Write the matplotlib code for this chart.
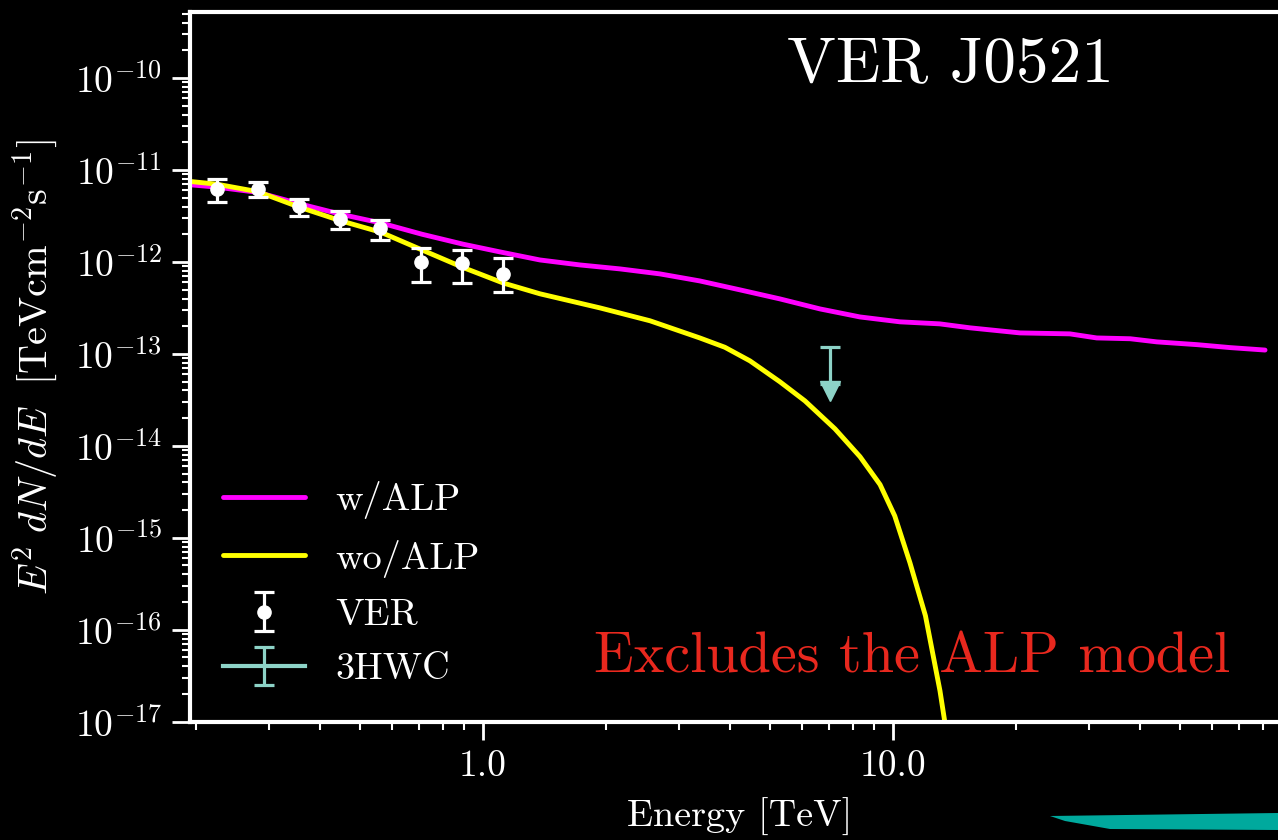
import matplotlib
matplotlib.use('Agg')
import matplotlib.pyplot as plt
from matplotlib.patches import Polygon

plt.rcParams['mathtext.fontset'] = 'cm'
plt.rcParams['font.family'] = 'cmr10'
plt.rcParams['axes.formatter.use_mathtext'] = True

# w/ALP model curve
energy_alp = [0.193, 0.2245, 0.2826, 0.356, 0.450, 0.564, 0.71, 0.894, 1.10, 1.377,
              1.724, 2.16, 2.70, 3.38, 4.24, 5.30, 6.64, 8.31, 10.4, 13.0, 15.4,
              20.4, 27.0, 31.4, 37.9, 44.0, 55.1, 66.4, 80.8]
flux_alp = [6.9e-12, 6.5e-12, 5.7e-12, 4.3e-12, 3.3e-12, 2.65e-12, 2.0e-12, 1.56e-12,
            1.285e-12, 1.05e-12, 9.27e-13, 8.39e-13, 7.41e-13, 6.21e-13, 4.96e-13,
            3.96e-13, 3.08e-13, 2.52e-13, 2.23e-13, 2.12e-13, 1.92e-13, 1.69e-13,
            1.65e-13, 1.49e-13, 1.46e-13, 1.35e-13, 1.26e-13, 1.17e-13, 1.10e-13]

# wo/ALP model curve
energy_noalp = [0.193, 0.2245, 0.2826, 0.356, 0.450, 0.564, 0.71, 0.894, 1.12, 1.377,
                1.93, 2.555, 3.38, 3.89, 4.48, 5.30, 6.10, 7.22, 8.31, 9.30,
                10.1, 11.0, 12.0, 13.02, 13.6]
flux_noalp = [7.5e-12, 7.0e-12, 5.8e-12, 3.95e-12, 2.8e-12, 2.1e-12, 1.35e-12, 8.7e-13,
              5.9e-13, 4.5e-13, 3.16e-13, 2.29e-13, 1.49e-13, 1.18e-13, 8.39e-14,
              4.97e-14, 3.08e-14, 1.53e-14, 7.62e-15, 3.79e-15, 1.73e-15,
              5.35e-16, 1.42e-16, 2.17e-17, 6.2e-18]

# VER data points
ver_energy = [0.224, 0.282, 0.355, 0.447, 0.562, 0.708, 0.891, 1.12]
ver_flux = [6.2e-12, 6.26e-12, 4.06e-12, 2.96e-12, 2.32e-12, 1.0e-12, 9.8e-13, 7.34e-13]
ver_hi = [7.9e-12, 7.46e-12, 4.88e-12, 3.61e-12, 2.88e-12, 1.40e-12, 1.36e-12, 1.1e-12]
ver_lo = [4.5e-12, 5.1e-12, 3.16e-12, 2.3e-12, 1.75e-12, 6.07e-13, 5.9e-13, 4.75e-13]

# 3HWC upper limit
hwc_energy = [7.02]
hwc_ul = [1.19e-13]
hwc_bar_end = [4.7e-14]
hwc_arrow = [3.9e-14]

teal = '#8dd3c7'

fig = plt.figure(figsize=(12.78, 8.4), dpi=100, facecolor='black')
ax = fig.add_axes([190/1278, (840-721.7)/840, 1100/1278, 709.4/840])
ax.set_facecolor('black')

ax.plot(energy_alp, flux_alp, color='#ff00ff', lw=3.5, label='w/ALP', solid_capstyle='round')
ax.plot(energy_noalp, flux_noalp, color='#ffff00', lw=3.5, label='wo/ALP', solid_capstyle='round')

yerr = [[f - l for f, l in zip(ver_flux, ver_lo)], [h - f for f, h in zip(ver_flux, ver_hi)]]
ax.errorbar(ver_energy, ver_flux, yerr=yerr, fmt='o', color='white', ms=9.5,
            elinewidth=2.3, capsize=7, capthick=2.3, label='VER', zorder=4)

hwc_err = [[u - b for u, b in zip(hwc_ul, hwc_bar_end)], [0]]
ax.errorbar(hwc_energy, hwc_ul, yerr=hwc_err, fmt='-', color=teal, lw=3,
            elinewidth=2.3, capsize=7, capthick=2.3, label='3HWC', zorder=4)
ax.plot(hwc_energy, hwc_arrow, marker='v', ms=15, color=teal, ls='none', zorder=4)

ax.set_xscale('log')
ax.set_yscale('log')
ax.set_xlim(0.193, 92.96)
ax.set_ylim(1e-17, 5.18e-10)
ax.set_xticks([1, 10])
ax.set_xticklabels(['1.0', '10.0'])

for s in ['left', 'bottom', 'top']:
    ax.spines[s].set_color('white')
    ax.spines[s].set_linewidth(3)
ax.spines['right'].set_visible(False)

ax.tick_params(which='both', colors='white', direction='out', top=False, right=False)
ax.tick_params(which='major', length=13, width=2, labelsize=27, pad=7)
ax.tick_params(which='minor', length=6, width=1.5)

ax.set_xlabel('Energy [TeV]', color='white', fontsize=27.5, labelpad=11)
ax.set_ylabel(r'$E^2\ dN/dE\ \ [\mathrm{TeV cm^{-2}s^{-1}}]$', color='white', fontsize=29, labelpad=10)

ax.text(0.691, 0.926, 'VER J0521', transform=ax.transAxes, color='white',
        fontsize=47, ha='center', va='center')
ax.text(0.656, 0.07, 'Excludes the ALP model', transform=ax.transAxes,
        color='#e8281e', fontsize=42, ha='center', va='baseline')

leg = ax.legend(loc='lower left', bbox_to_anchor=(0.03, 0.05), frameon=False,
                fontsize=27.5, handlelength=2.15, handletextpad=0.78, labelspacing=0.54,
                borderaxespad=0, borderpad=0)
for t in leg.get_texts():
    t.set_color('white')

# teal highlighter stroke at the bottom right
fig.patches.append(Polygon([(1050/1278, 1 - 816/840), (1278/1278, 1 - 813/840),
                            (1278/1278, 1 - 830/840), (1110/1278, 1 - 829/840),
                            (1065/1278, 1 - 821/840)], closed=True,
                           transform=fig.transFigure, facecolor='#00a99d', edgecolor='none'))

fig.savefig('out.png', dpi=100, facecolor='black')
